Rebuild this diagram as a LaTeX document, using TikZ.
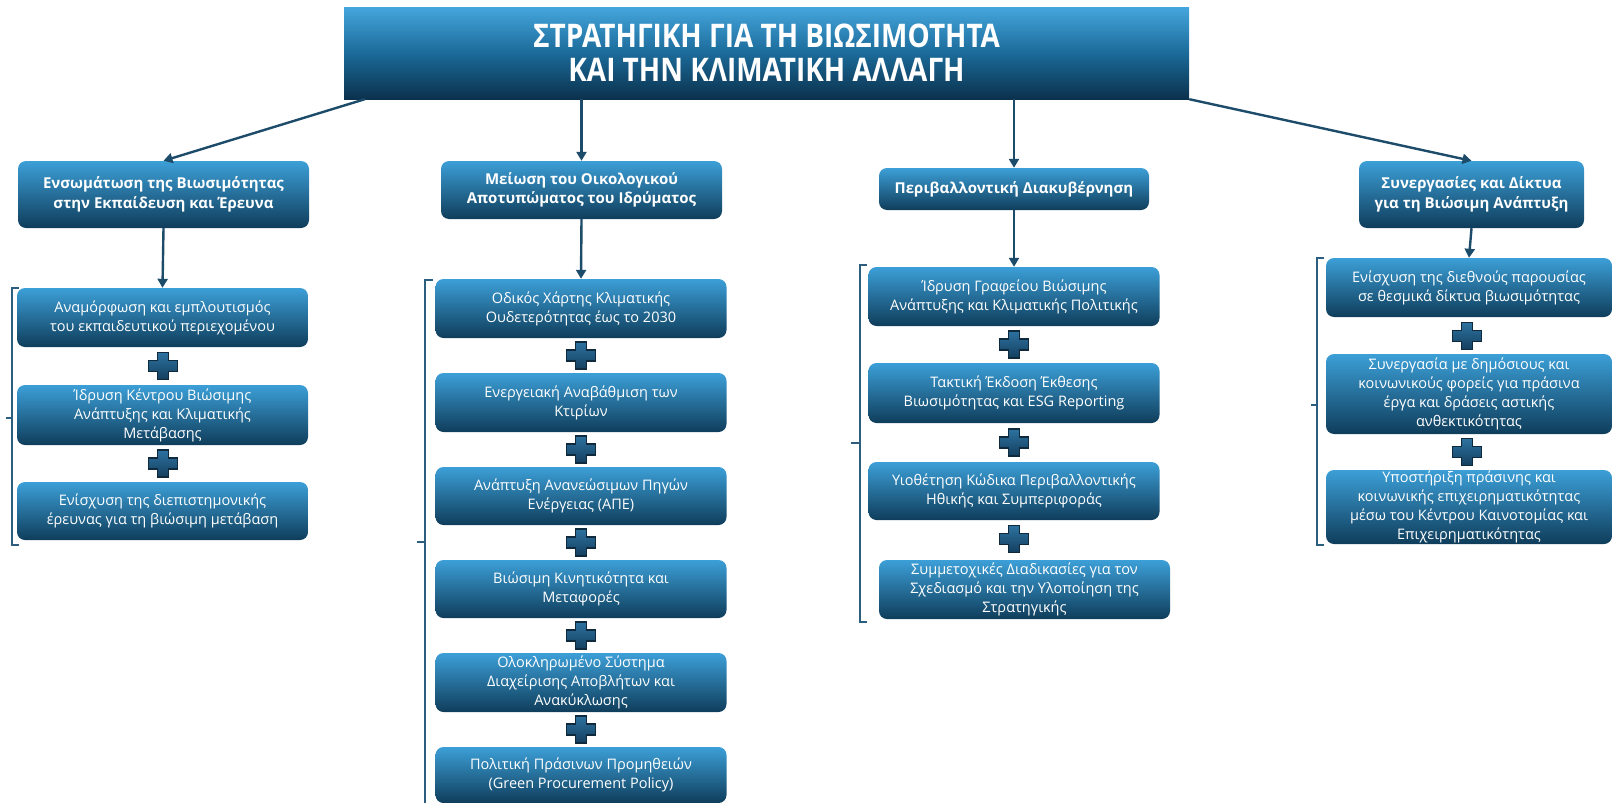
\documentclass[tikz,border=0pt]{standalone}
\usepackage{fontspec}
\setmainfont{Open Sans}
\newfontfamily\titlefont[FakeStretch=0.86]{Open Sans}
\usepackage{tikz}
\usetikzlibrary{calc}
\usetikzlibrary{arrows,arrows.meta,shapes}
\definecolor{boxtop}{HTML}{3C9FD7}
\definecolor{boxbot}{HTML}{0F3D5B}
\definecolor{titletop}{HTML}{45A6DD}
\definecolor{titlemid}{HTML}{1B6A99}
\definecolor{titlebot}{HTML}{0B314C}
\definecolor{linkc}{HTML}{1D4B6A}
\definecolor{bracec}{HTML}{2C5E80}
\definecolor{plustop}{HTML}{2D72A0}
\definecolor{plusbot}{HTML}{143F5E}
\definecolor{plusedge}{HTML}{0F2A3C}
\tikzstyle{hit}=[-{Triangle[length=9pt,width=10pt]},draw=linkc,fill=linkc,line width=2.4pt]
\tikzstyle{brace}=[draw=bracec,line width=1.3pt]
\tikzstyle{titlebox}=[top color=titletop,bottom color=titlebot,middle color=titlemid,text=white,
                minimum width=845pt,minimum height=92pt,inner sep=0pt,align=center,
                font=\titlefont\bfseries\fontsize{32.5}{34}\selectfont]
\tikzstyle{head}=[top color=boxtop,bottom color=boxbot,rounded corners=8pt,text=white,
                align=center,inner sep=0pt,font=\bfseries\fontsize{15}{19.5}\selectfont]
\tikzstyle{sub}=[top color=boxtop,bottom color=boxbot,rounded corners=8pt,text=white,
                align=center,inner sep=0pt,minimum width=291pt,minimum height=59pt,
                font=\fontsize{14.5}{19}\selectfont]
\newcommand{\plusat}[1]{\shadedraw[top color=plustop,bottom color=plusbot,draw=plusedge,line width=1.5pt]
  (#1) ++(-5.5,-13.5) -- ++(11,0) -- ++(0,8) -- ++(9,0) -- ++(0,11) -- ++(-9,0) -- ++(0,8)
  -- ++(-11,0) -- ++(0,-8) -- ++(-9,0) -- ++(0,-11) -- ++(9,0) -- cycle;}

\begin{document}
\begin{tikzpicture}[x=1pt,y=-1pt]
\useasboundingbox (0,0) rectangle (1612,803);
\node at (766.5,53)[titlebox] (strat) {ΣΤΡΑΤΗΓΙΚΗ ΓΙΑ ΤΗ ΒΙΩΣΙΜΟΤΗΤΑ\\ΚΑΙ ΤΗΝ ΚΛΙΜΑΤΙΚΗ ΑΛΛΑΓΗ};

\node at (163.5,194.5)[head,minimum width=291pt,minimum height=67pt] (edu) {Ενσωμάτωση της Βιωσιμότητας\\στην Εκπαίδευση και Έρευνα};
\node at (581.5,190)[head,minimum width=281pt,minimum height=58pt] (foot) {Μείωση του Οικολογικού\\Αποτυπώματος του Ιδρύματος};
\node at (1014,189)[head,minimum width=270pt,minimum height=42pt] (gov) {Περιβαλλοντική Διακυβέρνηση};
\node at (1471.5,194.5)[head,minimum width=225pt,minimum height=67pt] (net) {Συνεργασίες και Δίκτυα\\για τη Βιώσιμη Ανάπτυξη};

\node at (162.5,317.5)[sub] (edu1) {Αναμόρφωση και εμπλουτισμός\\του εκπαιδευτικού περιεχομένου};
\node at (162.5,415)[sub,minimum height=60pt] (edu2) {Ίδρυση Κέντρου Βιώσιμης\\Ανάπτυξης και Κλιματικής\\Μετάβασης};
\node at (162.5,511)[sub,minimum height=58pt] (edu3) {Ενίσχυση της διεπιστημονικής\\έρευνας για τη βιώσιμη μετάβαση};

\node at (581,308.5)[sub] (foot1) {Οδικός Χάρτης Κλιματικής\\Ουδετερότητας έως το 2030};
\node at (581,402.5)[sub] (foot2) {Ενεργειακή Αναβάθμιση των\\Κτιρίων};
\node at (581,496)[sub,minimum height=58pt] (foot3) {Ανάπτυξη Ανανεώσιμων Πηγών\\Ενέργειας (ΑΠΕ)};
\node at (581,589)[sub,minimum height=58pt] (foot4) {Βιώσιμη Κινητικότητα και\\Μεταφορές};
\node at (581,682.5)[sub] (foot5) {Ολοκληρωμένο Σύστημα\\Διαχείρισης Αποβλήτων και\\Ανακύκλωσης};
\node at (581,775)[sub,minimum height=56pt] (foot6) {Πολιτική Πράσινων Προμηθειών\\(Green Procurement Policy)};

\node at (1014,296.5)[sub] (gov1) {Ίδρυση Γραφείου Βιώσιμης\\Ανάπτυξης και Κλιματικής Πολιτικής};
\node at (1014,393)[sub,minimum height=60pt] (gov2) {Τακτική Έκδοση Έκθεσης\\Βιωσιμότητας και ESG Reporting};
\node at (1014,491)[sub,minimum height=58pt] (gov3) {Υιοθέτηση Κώδικα Περιβαλλοντικής\\Ηθικής και Συμπεριφοράς};
\node at (1024.5,589.5)[sub] (gov4) {Συμμετοχικές Διαδικασίες για τον\\Σχεδιασμό και την Υλοποίηση της\\Στρατηγικής};

\node at (1469,287.5)[sub,minimum width=286pt] (net1) {Ενίσχυση της διεθνούς παρουσίας\\σε θεσμικά δίκτυα βιωσιμότητας};
\node at (1469,394)[sub,minimum width=286pt,minimum height=80pt] (net2) {Συνεργασία με δημόσιους και\\κοινωνικούς φορείς για πράσινα\\έργα και δράσεις αστικής\\ανθεκτικότητας};
\node at (1469,507)[sub,minimum width=286pt,minimum height=74pt] (net3) {Υποστήριξη πράσινης και\\κοινωνικής επιχειρηματικότητας\\μέσω του Κέντρου Καινοτομίας και\\Επιχειρηματικότητας};

\plusat{163,366}
\plusat{163,463.5}
\plusat{581,355.5}
\plusat{581,449.5}
\plusat{581,542.5}
\plusat{581,635.5}
\plusat{581,729.5}
\plusat{1014,344.5}
\plusat{1014,442.5}
\plusat{1014,539}
\plusat{1467,336}
\plusat{1467,452}

\draw[brace] (19,288) -- (12,288) -- (12,545) -- (19,545);
\draw[brace] (12,418) -- (6,418);
\draw[brace] (433,280) -- (425,280) -- (425,803);
\draw[brace] (425,542) -- (417,542);
\draw[brace] (867,265) -- (860,265) -- (860,622) -- (867,622);
\draw[brace] (860,443) -- (851,443);
\draw[brace] (1324,258) -- (1317,258) -- (1317,545) -- (1324,545);
\draw[brace] (1317,405) -- (1311,405);

\draw[hit] ([xshift=21pt]strat.south west) -- (edu.north);
\draw[hit] (strat.south -| foot.north) -- (foot.north);
\draw[hit] (strat.south -| gov.north) -- (gov.north);
\draw[hit] (strat.south east) -- (net.north);
\draw[hit] (edu.south) -- (edu1.north);
\draw[hit] (foot.south) -- (foot1.north);
\draw[hit] (gov.south) -- (gov1.north);
\draw[hit] (net.south) -- (net1.north);
\end{tikzpicture}
\end{document}
